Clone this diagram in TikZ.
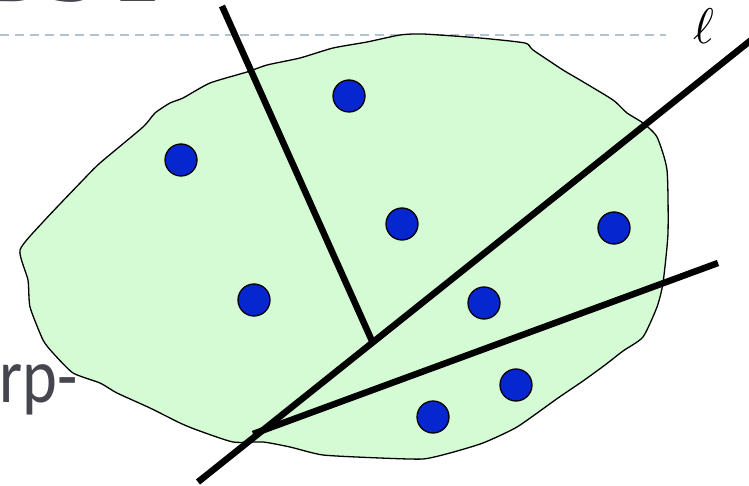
\documentclass[tikz,border=0pt]{standalone}
\usepackage{fontspec}
\setmainfont{Liberation Serif}
\newfontfamily\labelsans{Carlito}
\definecolor{blobfill}{HTML}{D4FBD4}
\definecolor{dotblue}{HTML}{0626D0}
\definecolor{dashcol}{HTML}{AFC3D3}
\definecolor{slidegray}{HTML}{46464F}
\tikzset{
  cutline/.style={line width=6.5pt, black},
  pointdot/.style={circle, draw=black, line width=1.3pt, fill=dotblue, minimum size=32pt, inner sep=0pt},
  bloboutline/.style={draw=black, line width=1.3pt, fill=blobfill},
}
\begin{document}
\begin{tikzpicture}[x=1pt, y=-1pt]
\useasboundingbox (0,0) rectangle (749,486);
\clip (0,0) rectangle (749,486);
% title remnant
\node[anchor=base west, inner sep=0pt, text=slidegray, font=\bfseries\fontsize{95}{95}\selectfont] (title) at (-22,2) {B\kern4pt S\kern8pt T};
% dashed guide line
\coordinate (dashL) at (0,35);
\coordinate (dashR) at (666,35);
\draw[dashcol, line width=2pt, dash pattern=on 9pt off 6pt] (dashL) -- (dashR);
% blob
\draw[bloboutline] plot[smooth cycle, tension=0.35] coordinates {
 (100,163) (143,127) (155,113) (170,103) (183,98) (210,83) (247,72) (267,65)
 (300,58) (333,48) (367,42) (400,35) (423,34) (480,38) (525,43) (533,50)
 (563,70) (580,80) (613,100) (627,113) (643,123) (657,137) (667,170)
 (668,233) (663,283) (657,307) (643,337) (623,351) (605,365) (583,381)
 (558,398) (517,427) (483,443) (450,453) (423,459) (380,458) (323,455)
 (290,447) (263,442) (233,442) (197,430) (180,423) (150,408) (117,393)
 (100,383) (73,373) (53,353) (43,340) (30,307) (28,280) (20,250) (43,222) (83,180)};
% points
\node[pointdot] (p1) at (181,160) {};
\node[pointdot] (p2) at (349,96) {};
\node[pointdot] (p3) at (402,224) {};
\node[pointdot] (p4) at (614,228) {};
\node[pointdot] (p5) at (254,300) {};
\node[pointdot] (p6) at (484,303) {};
\node[pointdot] (p7) at (516,385) {};
\node[pointdot] (p8) at (433,417) {};
% cutting lines
\coordinate (aTop) at (222,6);
\coordinate (aBot) at (372,341);
\coordinate (lBot) at (198,482);
\coordinate (lTop) at (760,33);
\coordinate (cLeft) at (253,434);
\coordinate (cRight) at (718,263);
\draw[cutline] (aTop) -- (aBot);
\draw[cutline] (lBot) -- (lTop);
\draw[cutline] (cLeft) -- (cRight);
% labels
\node[inner sep=0pt] (ell) at (704,26) {\scalebox{5}{$\ell$}};
\node[anchor=base east, inner sep=0pt, text=slidegray, font=\labelsans\fontsize{78}{78}\selectfont] (rp) at (78,402) {\scalebox{0.85}[1]{rp-}};
\end{tikzpicture}
\end{document}
